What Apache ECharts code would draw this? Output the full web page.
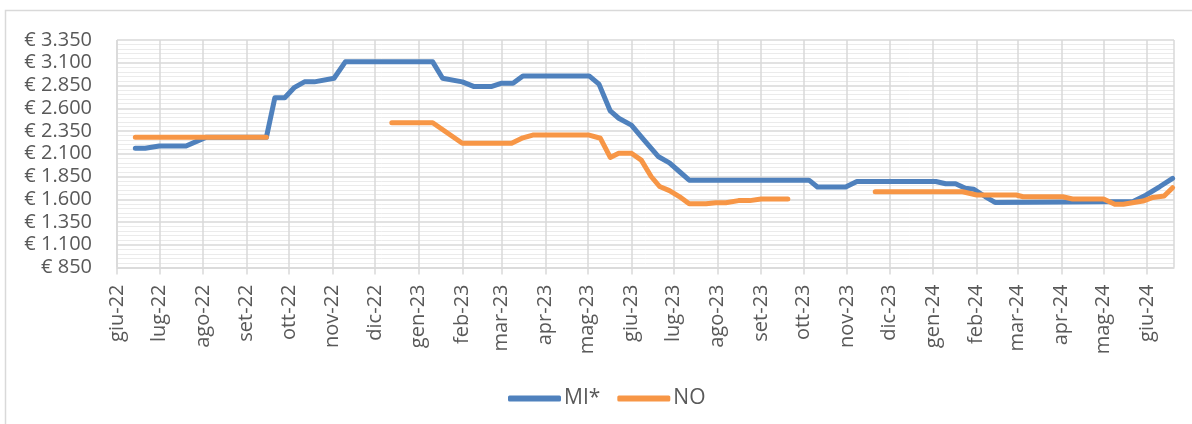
<!DOCTYPE html>
<html>
<head>
<meta charset="utf-8">
<script src="https://cdn.jsdelivr.net/npm/echarts@6/dist/echarts.min.js"></script>
<style>
  html, body { margin: 0; padding: 0; background: #ffffff; }
  #chart { width: 1192px; height: 424px; }
</style>
</head>
<body>
<div id="chart"></div>
<script>
// Weekly price series (€), null marks weeks without a quotation
const miDates = ['2022-06-14','2022-06-21','2022-07-01','2022-07-20','2022-08-03','2022-09-15','2022-09-21','2022-09-28','2022-10-05','2022-10-12','2022-10-19','2022-11-02','2022-11-10','2023-01-11','2023-01-18','2023-02-01','2023-02-09','2023-02-22','2023-03-01','2023-03-09','2023-03-16','2023-05-02','2023-05-09','2023-05-17','2023-05-23','2023-06-01','2023-06-10','2023-06-20','2023-06-28','2023-07-05','2023-07-12','2023-10-05','2023-10-11','2023-10-31','2023-11-08','2024-01-03','2024-01-10','2024-01-17','2024-01-24','2024-01-30','2024-02-07','2024-02-14','2024-05-22','2024-05-31','2024-06-10','2024-06-19'];
const miValues = [2160,2160,2185,2185,2280,2280,2715,2715,2830,2890,2890,2930,3110,3110,2930,2890,2840,2840,2875,2875,2955,2955,2865,2570,2490,2415,2250,2070,2000,1905,1810,1810,1735,1735,1795,1795,1770,1770,1720,1710,1630,1565,1575,1645,1740,1830];

const noDates = ['2022-06-14','2022-09-15','2022-11-01','2022-12-13','2023-01-11','2023-02-01','2023-03-08','2023-03-16','2023-03-23','2023-05-02','2023-05-10','2023-05-17','2023-05-23','2023-06-01','2023-06-08','2023-06-15','2023-06-21','2023-06-28','2023-07-05','2023-07-12','2023-07-24','2023-07-31','2023-08-07','2023-08-16','2023-08-24','2023-09-01','2023-09-20','2023-10-20','2023-11-21','2024-01-22','2024-02-01','2024-02-29','2024-03-05','2024-04-02','2024-04-09','2024-05-01','2024-05-09','2024-05-15','2024-05-29','2024-06-05','2024-06-13','2024-06-19'];
const noValues = [2280,2280,null,2440,2440,2215,2215,2275,2305,2305,2270,2060,2105,2105,2030,1850,1740,1695,1630,1550,1550,1562,1562,1585,1585,1603,1603,null,1683,1683,1647,1647,1628,1628,1603,1603,1545,1545,1580,1620,1636,1727];

const monthNames = ['gen','feb','mar','apr','mag','giu','lug','ago','set','ott','nov','dic'];
const axisStart = '2022-06-01';
const axisEnd = '2024-06-20';
const yMin = 850, yMax = 3350, yStep = 250;

function toUTC(s) {
  const p = s.split('-').map(Number);
  return Date.UTC(p[0], p[1] - 1, p[2]);
}
function pairs(dates, values) {
  return dates.map((d, i) => [toUTC(d), values[i] == null ? '-' : values[i]]);
}
function monthLabel(v) {
  const d = new Date(v);
  return monthNames[d.getUTCMonth()] + '-' + String(d.getUTCFullYear()).slice(2);
}
function euro(v) {
  const s = String(v);
  return '€ ' + (s.length > 3 ? s.slice(0, s.length - 3) + '.' + s.slice(-3) : s);
}

const FONT = 'Open Sans';
const GREY = '#595959';
const GRID = '#d9d9d9';

const chart = echarts.init(document.getElementById('chart'), null, { renderer: 'canvas' });
chart.setOption({
  useUTC: true,
  animation: false,
  backgroundColor: '#ffffff',
  graphic: [{
    type: 'rect', z: -10, silent: true,
    shape: { x: 5.5, y: 10.5, width: 1300, height: 600 },
    style: { fill: 'none', stroke: GRID, lineWidth: 1.5 }
  }],
  grid: { left: 117, right: 18, top: 40, bottom: 156.5, containLabel: false },
  legend: {
    left: 503, top: 383,
    itemWidth: 53, itemHeight: 6, itemGap: 17,
    icon: 'roundRect',
    textStyle: { fontFamily: FONT, fontSize: 21, color: GREY, padding: [0, 0, 0, -2] },
    data: ['MI*', 'NO']
  },
  xAxis: {
    type: 'time',
    min: toUTC(axisStart), max: toUTC(axisEnd),
    minInterval: 28 * 86400000, maxInterval: 31 * 86400000,
    splitNumber: 25,
    axisLine: { lineStyle: { color: GRID, width: 1.5 } },
    axisTick: { show: true, length: 7, lineStyle: { color: GRID, width: 1.5 } },
    splitLine: { show: true, lineStyle: { color: GRID, width: 1.5 } },
    axisLabel: {
      rotate: 90, margin: 17, hideOverlap: false,
      showMinLabel: true, showMaxLabel: false,
      fontFamily: FONT, fontSize: 20, color: GREY,
      formatter: monthLabel
    }
  },
  yAxis: {
    type: 'value', min: yMin, max: yMax, interval: yStep,
    axisLine: { show: false }, axisTick: { show: false },
    splitLine: { lineStyle: { color: GRID, width: 1.5 } },
    minorTick: { show: false, splitNumber: 5 },
    minorSplitLine: { show: true, lineStyle: { color: '#ebebeb', width: 1 } },
    axisLabel: { margin: 25, fontFamily: FONT, fontSize: 20, color: GREY, formatter: euro }
  },
  series: [
    {
      name: 'MI*', type: 'line', data: pairs(miDates, miValues),
      showSymbol: false, connectNulls: false, color: '#4f81bd',
      lineStyle: { width: 5, cap: 'round', join: 'round', color: '#4f81bd' }
    },
    {
      name: 'NO', type: 'line', data: pairs(noDates, noValues),
      showSymbol: false, connectNulls: false, color: '#f79646',
      lineStyle: { width: 5, cap: 'round', join: 'round', color: '#f79646' }
    }
  ]
});
</script>
</body>
</html>
